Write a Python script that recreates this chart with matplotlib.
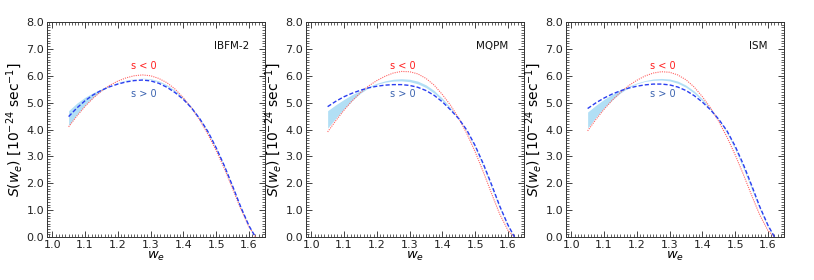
import matplotlib
matplotlib.use("Agg")
import matplotlib.pyplot as plt
from matplotlib.ticker import MultipleLocator, FormatStrFormatter

w_e = [1.05, 1.075, 1.10, 1.125, 1.15, 1.175, 1.20, 1.225, 1.25, 1.275, 1.30, 1.325,
       1.35, 1.375, 1.40, 1.425, 1.45, 1.475, 1.50, 1.525, 1.55, 1.575, 1.60, 1.62]

models = ["IBFM-2", "MQPM", "ISM"]

ibfm_neg = [4.10, 4.50, 4.86, 5.17, 5.43, 5.64, 5.80, 5.92, 6.00, 6.03, 6.00, 5.90,
            5.74, 5.50, 5.18, 4.80, 4.35, 3.82, 3.22, 2.55, 1.80, 1.05, 0.38, 0.0]
ibfm_pos = [4.48, 4.80, 5.07, 5.29, 5.46, 5.59, 5.69, 5.77, 5.82, 5.84, 5.81, 5.72,
            5.57, 5.37, 5.12, 4.80, 4.40, 3.92, 3.32, 2.65, 1.90, 1.12, 0.42, 0.0]
ibfm_lo = [4.15, 4.55, 4.90, 5.20, 5.44, 5.62, 5.75, 5.84, 5.89, 5.90, 5.86, 5.77,
           5.61, 5.40, 5.13, 4.79, 4.38, 3.88, 3.28, 2.60, 1.85, 1.08, 0.40, 0.0]
ibfm_hi = [4.70, 4.98, 5.20, 5.37, 5.51, 5.63, 5.73, 5.82, 5.88, 5.91, 5.89, 5.81,
           5.66, 5.45, 5.18, 4.84, 4.42, 3.93, 3.33, 2.66, 1.90, 1.12, 0.42, 0.0]

mqpm_neg = [3.91, 4.33, 4.72, 5.07, 5.37, 5.62, 5.82, 5.98, 6.10, 6.16, 6.15, 6.07,
            5.90, 5.65, 5.30, 4.90, 4.42, 3.84, 3.17, 2.42, 1.62, 0.85, 0.25, 0.0]
mqpm_pos = [4.85, 5.05, 5.22, 5.35, 5.46, 5.55, 5.61, 5.65, 5.67, 5.67, 5.64, 5.57,
            5.45, 5.27, 5.03, 4.73, 4.40, 3.97, 3.40, 2.72, 1.95, 1.15, 0.45, 0.0]
mqpm_lo = [4.05, 4.42, 4.77, 5.08, 5.35, 5.55, 5.68, 5.76, 5.80, 5.81, 5.78, 5.70,
           5.56, 5.35, 5.08, 4.76, 4.40, 3.92, 3.30, 2.60, 1.82, 1.05, 0.38, 0.0]
mqpm_hi = [4.70, 4.92, 5.12, 5.30, 5.45, 5.60, 5.72, 5.81, 5.87, 5.89, 5.87, 5.80,
           5.66, 5.45, 5.16, 4.81, 4.42, 3.95, 3.35, 2.66, 1.88, 1.10, 0.42, 0.0]

ism_neg = [3.95, 4.37, 4.75, 5.09, 5.38, 5.63, 5.83, 5.99, 6.10, 6.15, 6.13, 6.03,
           5.85, 5.58, 5.22, 4.80, 4.30, 3.72, 3.06, 2.33, 1.56, 0.82, 0.24, 0.0]
ism_pos = [4.78, 4.99, 5.17, 5.32, 5.44, 5.54, 5.61, 5.66, 5.69, 5.69, 5.66, 5.58,
           5.45, 5.26, 5.02, 4.73, 4.38, 3.95, 3.38, 2.70, 1.93, 1.13, 0.44, 0.0]
ism_lo = [4.05, 4.45, 4.80, 5.10, 5.36, 5.56, 5.70, 5.79, 5.83, 5.84, 5.81, 5.72,
          5.57, 5.35, 5.07, 4.74, 4.35, 3.87, 3.25, 2.55, 1.78, 1.02, 0.36, 0.0]
ism_hi = [4.65, 4.90, 5.12, 5.31, 5.47, 5.61, 5.73, 5.82, 5.88, 5.90, 5.88, 5.80,
          5.65, 5.43, 5.14, 4.79, 4.38, 3.92, 3.32, 2.63, 1.86, 1.08, 0.40, 0.0]

neg_series = [ibfm_neg, mqpm_neg, ism_neg]
pos_series = [ibfm_pos, mqpm_pos, ism_pos]
lo_series = [ibfm_lo, mqpm_lo, ism_lo]
hi_series = [ibfm_hi, mqpm_hi, ism_hi]

fig = plt.figure(figsize=(8.14, 2.8), dpi=100)
lefts = [47 / 814, 306 / 814, 566 / 814]
for i, name in enumerate(models):
    ax = fig.add_axes([lefts[i], 43 / 280, 218 / 814, 215 / 280])
    ax.fill_between(w_e, lo_series[i], hi_series[i], color="#aadcf4", lw=0, alpha=0.9)
    ax.plot(w_e, neg_series[i], color="#ff6464", ls=(0, (1, 1)), lw=0.8)
    ax.plot(w_e, pos_series[i], color="#2a3ef0", ls=(0, (3, 1.5)), lw=1.0)
    ax.set_xlim(0.984, 1.649)
    ax.set_ylim(0, 8)
    ax.xaxis.set_major_locator(MultipleLocator(0.1))
    ax.xaxis.set_minor_locator(MultipleLocator(0.01))
    ax.yaxis.set_major_locator(MultipleLocator(1.0))
    ax.yaxis.set_minor_locator(MultipleLocator(0.1))
    ax.xaxis.set_major_formatter(FormatStrFormatter("%.1f"))
    ax.yaxis.set_major_formatter(FormatStrFormatter("%.1f"))
    ax.tick_params(which="both", direction="in", top=True, right=True,
                   labelsize=8, colors="#222222", pad=2)
    ax.tick_params(which="major", length=4, width=0.6)
    ax.tick_params(which="minor", length=2, width=0.5)
    for s in ax.spines.values():
        s.set_linewidth(0.7)
        s.set_color("#333333")
    ax.set_xlabel("$w_e$", fontsize=9.5, labelpad=0)
    ax.set_ylabel("$S(w_e)$ [$10^{-24}$ sec$^{-1}$]", fontsize=10, labelpad=1)
    ax.text(1.60, 7.1, name, fontsize=7.5, ha="right", va="center", color="#111111")
    ax.text(1.28, 6.35, "s < 0", fontsize=7, ha="center", va="center", color="#ff2020")
    ax.text(1.28, 5.32, "s > 0", fontsize=7, ha="center", va="center", color="#3b63b0")

fig.savefig("out.png", dpi=100)
